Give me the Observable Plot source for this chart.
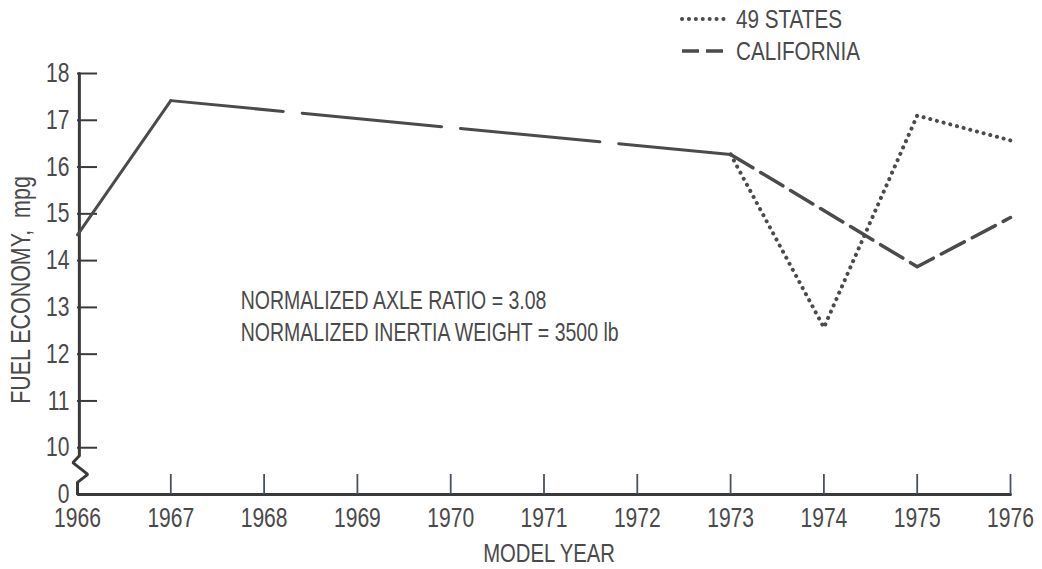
<!DOCTYPE html>
<html>
<head>
<meta charset="utf-8">
<script src="https://cdn.jsdelivr.net/npm/d3@7"></script>
<script src="https://cdn.jsdelivr.net/npm/@observablehq/plot@0.6"></script>
<style>
  body { margin: 0; background: #fff; }
  #wrap { position: relative; width: 1042px; height: 569px; font-family: "Liberation Sans", Arial, sans-serif; color: #4a4a4a; }
  #legend { position: absolute; left: 680px; top: 3px; font-size: 26.5px; line-height: 32px; }
  #legend div { display: flex; align-items: center; }
  #legend svg { margin-right: 10px; }
  #legend span { display: inline-block; transform: scaleX(0.78); transform-origin: left center; }
</style>
</head>
<body>
<div id="wrap">
  <div id="legend"></div>
</div>
<script>
// Model years and fuel economy (mpg)
const commonYears = [1966, 1967, 1973];
const commonMpg = [14.55, 17.42, 16.27];

const splitYears = [1973, 1974, 1975, 1976];
const states49Mpg = [16.27, 12.57, 17.1, 16.57];
const californiaMpg = [16.27, 15.07, 13.87, 14.92];

const xTicks = [1966, 1967, 1968, 1969, 1970, 1971, 1972, 1973, 1974, 1975, 1976];
const yTickMarks = [10, 11, 12, 13, 14, 15, 16, 17, 18];
// the scale jumps from 0 straight to 10, each step taking the same height
const yTickLabels = [0, 10, 11, 12, 13, 14, 15, 16, 17, 18];

const seriesNames = ["49 STATES", "CALIFORNIA"];
const noteLines = ["NORMALIZED AXLE RATIO = 3.08", "NORMALIZED INERTIA WEIGHT = 3500 lb"];
const xLabel = "MODEL YEAR";
const yLabel = "FUEL ECONOMY,  mpg";

// Broken y axis: straight from 18 down to the break, zigzag, then down to 0 and along the x axis
const axisPathX = [1966.02, 1966.02, 1965.95, 1966.11, 1966.0, 1966.0, 1976];
const axisPathY = [18, 8.3, 6.8, 4.3, 2.6, 0, 0];

const toRows = (xs, ys) => xs.map((x, i) => ({x, y: ys[i]}));
const common = toRows(commonYears, commonMpg);
const states49 = toRows(splitYears, states49Mpg);
const california = toRows(splitYears, californiaMpg);
const axisPath = toRows(axisPathX, axisPathY);

const ink = "#4b4b4b";
const axisInk = "#3a3a3a";
const textInk = "#4a4a4a";
const squeeze = 0.78;

const chart = Plot.plot({
  width: 1042,
  height: 569,
  marginTop: 73,
  marginBottom: 75,
  marginLeft: 77,
  marginRight: 32,
  style: {fontFamily: `"Liberation Sans", Arial, sans-serif`, color: textInk, background: "#fff"},
  x: {domain: [1966, 1976]},
  y: {type: "linear", domain: yTickLabels},
  marks: [
    // axis line with the break
    Plot.line(axisPath, {x: "x", y: "y", stroke: axisInk, strokeWidth: 3, strokeLinejoin: "miter"}),
    // y tick marks pointing inward
    Plot.axisY({ticks: yTickMarks, tickSize: -20, tickFormat: () => "", stroke: axisInk, strokeWidth: 2, label: null}),
    // y tick labels
    Plot.axisY({ticks: yTickLabels, tickSize: 0, tickPadding: 8, fontSize: 27, fill: textInk, label: null}),
    // x tick marks pointing upward
    Plot.axisX({ticks: xTicks.slice(1), tickSize: -20, tickFormat: () => "", stroke: "#4a5260", strokeWidth: 1.8, label: null}),
    // x tick labels
    Plot.axisX({ticks: xTicks, tickSize: 0, tickPadding: 13, tickFormat: d => String(d), fontSize: 27, fill: textInk, label: null}),
    Plot.text([xLabel], {frameAnchor: "bottom", dx: 5, dy: 67, text: d => d, fontSize: 26, fill: textInk}),
    Plot.text([yLabel], {frameAnchor: "left", textAnchor: "middle", dx: -56, dy: 6, rotate: -90, text: d => d, fontSize: 27.5, fill: textInk}),
    // shared history: solid to 1967, then long dashes to 1973
    Plot.line(common.slice(0, 2), {x: "x", y: "y", stroke: ink, strokeWidth: 3}),
    Plot.line(common.slice(1), {x: "x", y: "y", stroke: ink, strokeWidth: 3, strokeDasharray: "140,19", strokeDashoffset: 27}),
    // California (dashed) and 49 states (dotted)
    Plot.line(california, {x: "x", y: "y", stroke: ink, strokeWidth: 3.5, strokeDasharray: "26,9"}),
    Plot.line(states49, {x: "x", y: "y", stroke: ink, strokeWidth: 4, strokeDasharray: "0.1,6.8", strokeLinecap: "round"}),
    // notes
    Plot.text([noteLines.join("\n")], {x: 1967.75, y: 12.85, text: d => d, textAnchor: "start", lineHeight: 1.3, fontSize: 25, fill: textInk})
  ]
});

document.getElementById("wrap").appendChild(chart);

// narrow the lettering: squeeze every label horizontally about its own anchor point
chart.querySelectorAll("text").forEach(el => {
  const list = el.transform.baseVal;
  const base = list.numberOfItems ? list.consolidate().matrix : chart.createSVGMatrix();
  const x = el.x.baseVal.numberOfItems ? el.x.baseVal.getItem(0).value : 0;
  const y = el.y.baseVal.numberOfItems ? el.y.baseVal.getItem(0).value : 0;
  const m = base.translate(x, y).scaleNonUniform(squeeze, 1);
  el.removeAttribute("x");
  el.removeAttribute("y");
  el.setAttribute("transform", `matrix(${m.a},${m.b},${m.c},${m.d},${m.e},${m.f})`);
});

// legend
const legend = d3.select("#legend");
const styles = [
  {dash: "0.1,6.8", cap: "round", width: 4},
  {dash: "17,7", cap: "butt", width: 3.5}
];
seriesNames.forEach((name, i) => {
  const row = legend.append("div");
  const sw = row.append("svg").attr("width", 46).attr("height", 20);
  sw.append("line").attr("x1", 2).attr("x2", 44).attr("y1", 10).attr("y2", 10)
    .attr("stroke", ink).attr("stroke-width", styles[i].width)
    .attr("stroke-dasharray", styles[i].dash).attr("stroke-linecap", styles[i].cap);
  row.append("span").text(name);
});
</script>
</body>
</html>
